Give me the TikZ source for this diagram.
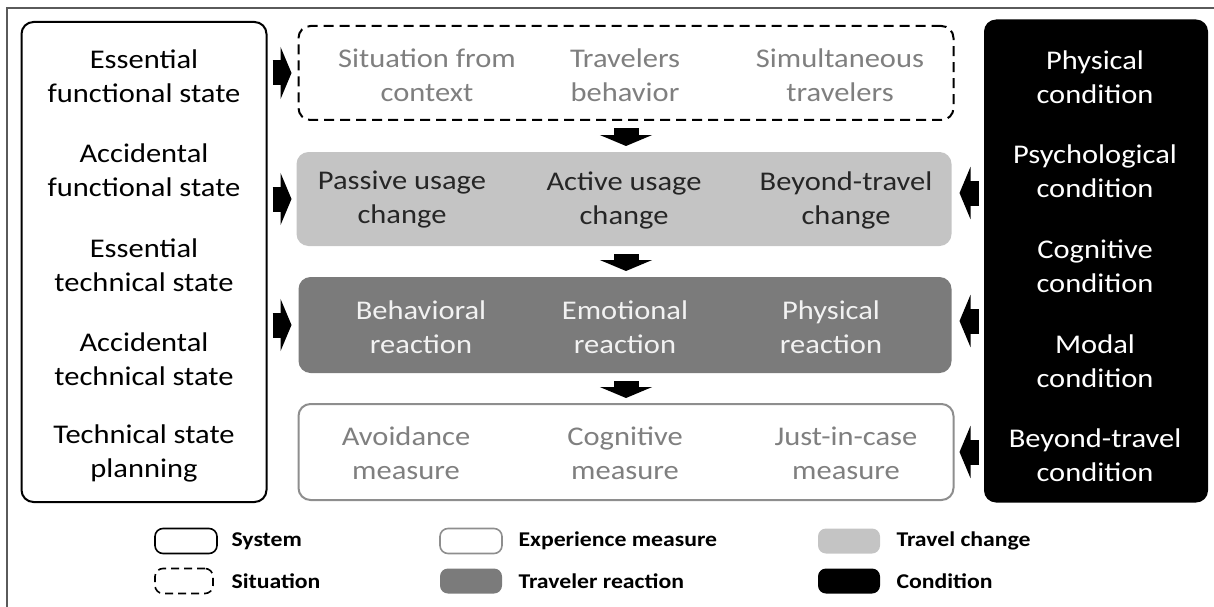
\documentclass[tikz,border=0pt]{standalone}
\usepackage{fontspec}
\setmainfont[FakeStretch=1.13]{Carlito}
\usetikzlibrary{arrows.meta}

\definecolor{framegray}{HTML}{5A5A5A}
\definecolor{changegray}{HTML}{C4C4C4}
\definecolor{reactgray}{HTML}{7B7B7B}
\definecolor{measuregray}{HTML}{8E8E8E}
\definecolor{softgray}{HTML}{7F7F7F}
\definecolor{nearwhite}{HTML}{F2F2F2}

\tikzset{groupbox/.style={rounded corners=12pt,line width=2pt}}
\tikzset{itemtext/.style={align=center,font=\fontsize{27}{34}\selectfont}}
\tikzset{blockarrow/.style={line width=25pt,-{Triangle[width=52pt,length=11pt]}}}
\tikzset{keybox/.style={rounded corners=8pt,line width=1.6pt,minimum width=62pt,minimum height=25pt}}
\tikzset{keytext/.style={anchor=west,font=\bfseries\fontsize{21}{24}\selectfont}}

\begin{document}
\begin{tikzpicture}[x=1pt,y=-1pt]

\useasboundingbox (0,0) rectangle (1214,607);
\draw[framegray,line width=1.5pt] (7,607) -- (7,8) -- (1214,8);

% system
\node[groupbox,draw=black,minimum width=245pt,minimum height=480pt] (sys) at (144,262) {};
\node[itemtext] (sys1) at (144,76) {Essential\\functional state};
\node[itemtext] (sys2) at (144,170) {Accidental\\functional state};
\node[itemtext] (sys3) at (144,265) {Essential\\technical state};
\node[itemtext] (sys4) at (144,359) {Accidental\\technical state};
\node[itemtext] (sys5) at (144,453) {Technical state\\planning};

% condition
\node[groupbox,fill=black,minimum width=224pt,minimum height=483pt] (cond) at (1096,261) {};
\node[itemtext,text=white] (cond1) at (1095,77) {Physical\\condition};
\node[itemtext,text=white] (cond2) at (1095,171) {Psychological\\condition};
\node[itemtext,text=white] (cond3) at (1095,266) {Cognitive\\condition};
\node[itemtext,text=white] (cond4) at (1095,361) {Modal\\condition};
\node[itemtext,text=white] (cond5) at (1095,455) {Beyond-travel\\condition};

% situation
\node[groupbox,draw=black,dash pattern=on 10pt off 6pt,minimum width=655pt,minimum height=94pt] (sit) at (626,73) {};
\node[itemtext,text=softgray] (sit1) at (427,75) {Situation from\\context};
\node[itemtext,text=softgray] (sit2) at (625,75) {Travelers\\behavior};
\node[itemtext,text=softgray] (sit3) at (840,75) {Simultaneous\\travelers};

% travel change
\node[groupbox,fill=changegray,minimum width=655pt,minimum height=94pt] (chg) at (624,199) {};
\node[itemtext,text=black!85] (chg1) at (402,200) {Passive usage\\change};
\node[itemtext,text=black!85] (chg2) at (624,200) {Active usage\\change};
\node[itemtext,text=black!85] (chg3) at (846,200) {Beyond-travel\\change};

% traveler reaction
\node[groupbox,fill=reactgray,minimum width=653pt,minimum height=96pt] (rea) at (625,325) {};
\node[itemtext,text=nearwhite] (rea1) at (421,327) {Behavioral\\reaction};
\node[itemtext,text=nearwhite] (rea2) at (625,327) {Emotional\\reaction};
\node[itemtext,text=nearwhite] (rea3) at (831,327) {Physical\\reaction};

% experience measure
\node[groupbox,draw=measuregray,minimum width=655pt,minimum height=96pt] (exp) at (626,452) {};
\node[itemtext,text=softgray] (exp1) at (406,453) {Avoidance\\measure};
\node[itemtext,text=softgray] (exp2) at (625,453) {Cognitive\\measure};
\node[itemtext,text=softgray] (exp3) at (846,453) {Just-in-case\\measure};

% arrows
\draw[blockarrow,shorten <=5pt,shorten >=6pt] (sys.east |- sit.west) -- (sit.west);
\draw[blockarrow,shorten <=5pt,shorten >=4pt] (sys.east |- chg.west) -- (chg.west);
\draw[blockarrow,shorten <=5pt,shorten >=6pt] (sys.east |- rea.west) -- (rea.west);

\draw[blockarrow,shorten <=4pt,shorten >=7pt] ([yshift=6pt]cond.west |- chg.east) -- ([yshift=6pt]chg.east);
\draw[blockarrow,shorten <=4pt,shorten >=7pt] ([yshift=4pt]cond.west |- rea.east) -- ([yshift=4pt]rea.east);
\draw[blockarrow,shorten <=4pt,shorten >=5pt] (cond.west |- exp.east) -- (exp.east);

\draw[blockarrow,shorten <=7pt,shorten >=5pt] (sit.south) -- (sit.south |- chg.north);
\draw[blockarrow,shorten <=7pt,shorten >=5pt] (sit.south |- chg.south) -- (sit.south |- rea.north);
\draw[blockarrow,shorten <=7pt,shorten >=5pt] (sit.south |- rea.south) -- (sit.south |- exp.north);

% legend
\node[keybox,draw=black] (ksys) at (186,541) {};
\node[keytext] at (228,541) {System};
\node[keybox,draw=black,dash pattern=on 8pt off 5pt,minimum width=58pt] (ksit) at (184,581) {};
\node[keytext] at (228,581) {Situation};
\node[keybox,draw=measuregray] (kexp) at (471,541) {};
\node[keytext] at (515,541) {Experience measure};
\node[keybox,fill=reactgray] (krea) at (471,581) {};
\node[keytext] at (515,581) {Traveler reaction};
\node[keybox,fill=changegray] (kchg) at (849,541) {};
\node[keytext] at (893,541) {Travel change};
\node[keybox,fill=black] (kcond) at (849,581) {};
\node[keytext] at (893,581) {Condition};

\end{tikzpicture}
\end{document}
